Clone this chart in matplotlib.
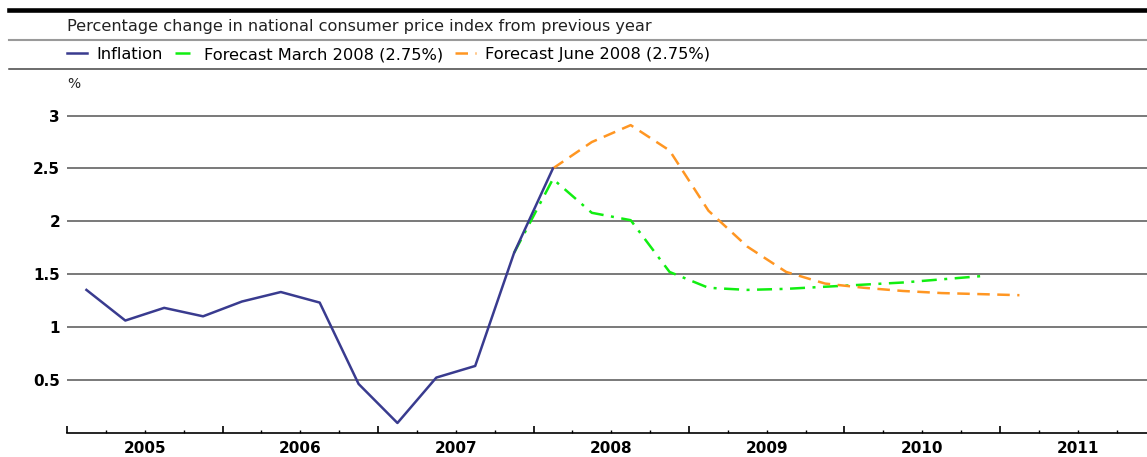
import matplotlib
matplotlib.use("Agg")
from matplotlib import pyplot as plt
from matplotlib.ticker import FixedLocator, FuncFormatter

plt.rcParams['font.family'] = ['DejaVu Sans']

# quarterly data, plotted at the middle of each quarter
inflation_q = ["2005Q1", "2005Q2", "2005Q3", "2005Q4", "2006Q1", "2006Q2", "2006Q3",
               "2006Q4", "2007Q1", "2007Q2", "2007Q3", "2007Q4", "2008Q1"]
inflation = [1.35, 1.06, 1.18, 1.10, 1.24, 1.33, 1.23, 0.46, 0.09, 0.52, 0.63, 1.70, 2.50]

march_q = ["2007Q4", "2008Q1", "2008Q2", "2008Q3", "2008Q4", "2009Q1", "2009Q2",
           "2009Q3", "2009Q4", "2010Q1", "2010Q2", "2010Q3", "2010Q4"]
march = [1.70, 2.40, 2.08, 2.01, 1.52, 1.37, 1.35, 1.36, 1.38, 1.40, 1.42, 1.45, 1.48]

june_q = ["2008Q1", "2008Q2", "2008Q3", "2008Q4", "2009Q1", "2009Q2", "2009Q3",
          "2009Q4", "2010Q1", "2010Q2", "2010Q3", "2010Q4", "2011Q1"]
june = [2.50, 2.75, 2.91, 2.67, 2.10, 1.76, 1.52, 1.41, 1.37, 1.34, 1.32, 1.31, 1.30]

years = [2005, 2006, 2007, 2008, 2009, 2010, 2011]
yticks = [0.5, 1, 1.5, 2, 2.5, 3]


def qpos(q):
    return int(q[:4]) + (int(q[5]) - 1) * 0.25 + 0.125


W, H = 1147, 457
fig = plt.figure(figsize=(W / 100, H / 100), dpi=100)

# axes box in pixels: left 67, right 1147, y=0 at 432.5, y=3.2 at 94.5
ax = fig.add_axes([67 / W, (H - 432.5) / H, (W - 67) / W, (432.5 - 94.5) / H])
ax.set_xlim(2005, 2005 + (W - 67) / 155.5)
ax.set_ylim(0, 3.2)

for y in yticks:
    ax.axhline(y, color='#6e6e6e', lw=1.3, zorder=1)

ax.plot([qpos(q) for q in inflation_q], inflation, color='#393b8f', lw=1.8,
        label='Inflation', zorder=3)
ax.plot([qpos(q) for q in march_q], march, color='#11ee11', lw=1.8,
        dashes=(6, 3, 1.2, 3), label='Forecast March 2008 (2.75%)', zorder=2)
ax.plot([qpos(q) for q in june_q], june, color='#ff9622', lw=1.8,
        dashes=(5, 3), label='Forecast June 2008 (2.75%)', zorder=2)

for s in ['top', 'right', 'left']:
    ax.spines[s].set_visible(False)
ax.spines['bottom'].set_color('black')
ax.spines['bottom'].set_linewidth(1.2)

ax.set_yticks(yticks)
ax.set_yticklabels(['0.5', '1', '1.5', '2', '2.5', '3'])
ax.tick_params(axis='y', length=0, pad=5, labelsize=11)
for t in ax.get_yticklabels():
    t.set_fontweight('bold')

# year boundaries as major ticks, quarters as minor ticks, labels mid-year
ax.xaxis.set_major_locator(FixedLocator(years))
ax.xaxis.set_major_formatter(FuncFormatter(lambda x, p: ''))
quarters = [y + f for y in years for f in (0.25, 0.5, 0.75)]
ax.xaxis.set_minor_locator(FixedLocator(quarters))
ax.xaxis.set_minor_formatter(FuncFormatter(
    lambda x, p: str(int(x)) if abs(x - int(x) - 0.5) < 1e-6 else ''))
ax.tick_params(axis='x', which='major', direction='in', length=5, width=1.2, color='black')
ax.tick_params(axis='x', which='minor', direction='in', length=2.5, width=1, color='black',
               labelsize=11, pad=6)
for t in ax.get_xticklabels(minor=True):
    t.set_fontweight('bold')

# header
fig.add_artist(plt.Line2D([9 / W, 1], [1 - 9.5 / H, 1 - 9.5 / H], color='black', lw=3.3))
fig.text(67 / W, 1 - 26 / H, 'Percentage change in national consumer price index from previous year',
         fontsize=11.6, va='center', ha='left', color='#222222')
fig.add_artist(plt.Line2D([9 / W, 1], [1 - 40 / H, 1 - 40 / H], color='#9a9a9a', lw=1.5))
fig.add_artist(plt.Line2D([9 / W, 1], [1 - 69 / H, 1 - 69 / H], color='#444444', lw=1.1))
fig.text(67 / W, 1 - 84 / H, '%', fontsize=10, va='center', ha='left', color='#222222')

fig.legend(loc='center left', bbox_to_anchor=(67 / W, 1 - 54.5 / H), ncol=3, frameon=False,
           fontsize=11.7, handlelength=1.25, handletextpad=0.55, columnspacing=0.75,
           borderaxespad=0, borderpad=0)

fig.savefig('out.png', dpi=100)
